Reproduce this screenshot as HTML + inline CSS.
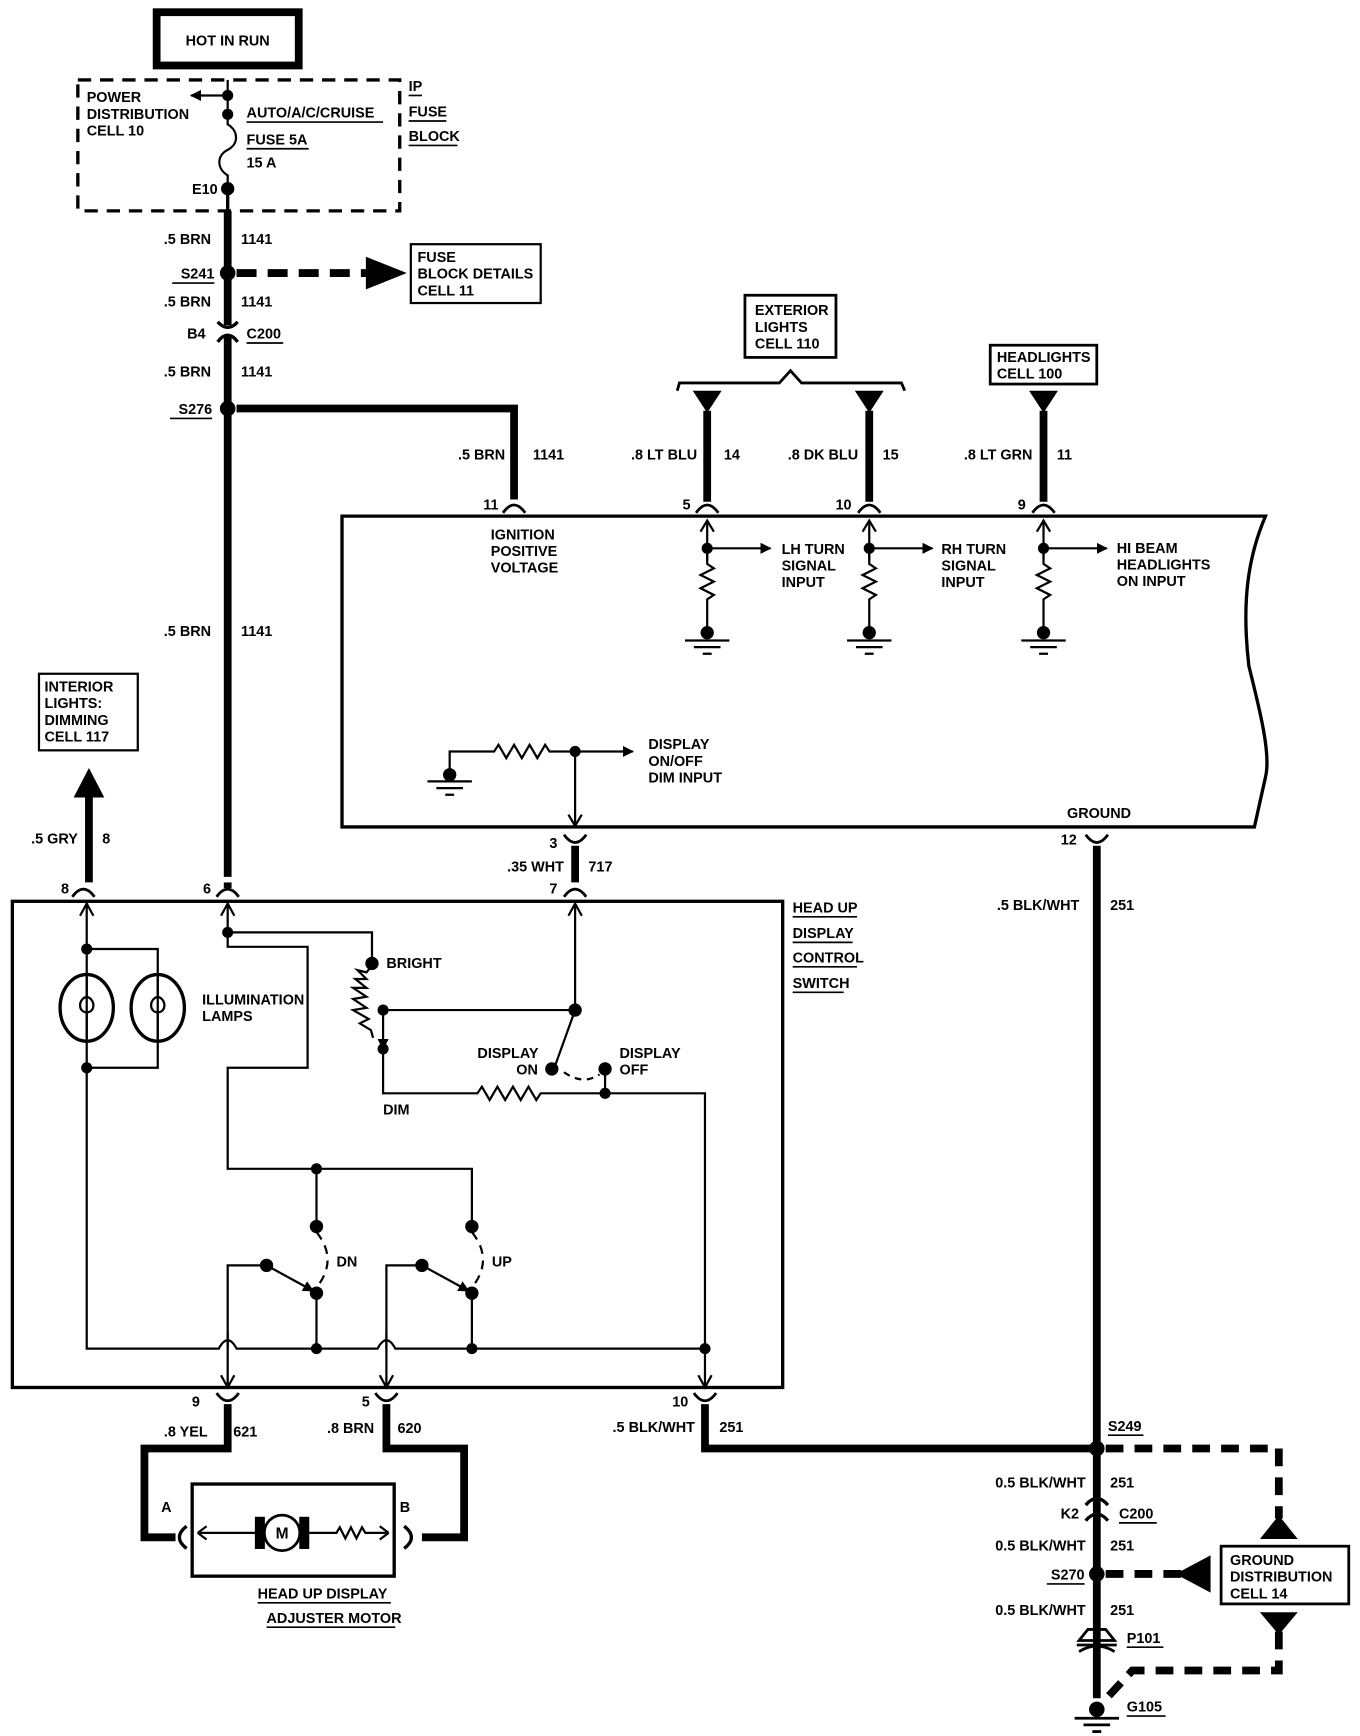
<!DOCTYPE html>
<html><head><meta charset="utf-8"><style>
html,body{margin:0;padding:0;background:#fff}
svg{display:block}
text{font-family:"Liberation Sans",sans-serif;font-weight:bold;font-size:13px;fill:#000}
</style></head><body>
<svg width="1360" height="1736" viewBox="0 0 1225 1564" xmlns="http://www.w3.org/2000/svg">
<defs>
<marker id="ar" markerWidth="10" markerHeight="10" refX="9" refY="5" orient="auto" markerUnits="userSpaceOnUse"><path d="M0,0 L10,5 L0,10 z" fill="#000"/></marker>
</defs>
<g fill="none" stroke="#000">
<rect x="141" y="11" width="128" height="48" stroke-width="7"/>
<rect x="70" y="72" width="290" height="118" stroke-width="3" stroke-dasharray="12,8"/>
<line x1="205" y1="72" x2="205" y2="103" stroke-width="2"/>
<line x1="205" y1="86" x2="172" y2="86" stroke-width="2" marker-end="url(#ar)"/>
<path d="M205,103 V112 C215,118 215,130 205,135 C195,140 195,152 205,158 V170" stroke-width="2"/>
<line x1="205" y1="170" x2="205" y2="190" stroke-width="3"/>
<line x1="205" y1="190" x2="205" y2="293" stroke-width="7"/>
<path d="M196,290 Q205,300 214,290 M196,308 Q205,296 214,308" stroke-width="3"/>
<line x1="205" y1="303" x2="205" y2="790" stroke-width="7"/>
<line x1="213" y1="246" x2="330" y2="246" stroke-width="7" stroke-dasharray="18,10"/>
<path d="M330,232 L365,246 L330,260z" fill="#000"/>
<rect x="370" y="220" width="117" height="53" stroke-width="2"/>
<path d="M213,368 H463 V450" stroke-width="7"/>
<path d="M308,465 H1140 C1125,500 1118,540 1125,600 C1135,640 1145,680 1140,700 L1130,745 H308 Z" stroke-width="3"/>
<g stroke-width="2.5">
<path d="M453,462 Q463,448 473,462"/><path d="M627,462 Q637,448 647,462"/><path d="M773,462 Q783,448 793,462"/><path d="M930,462 Q940,448 950,462"/>
</g>
<g stroke-width="7"><line x1="637" y1="370" x2="637" y2="452"/><line x1="783" y1="370" x2="783" y2="452"/><line x1="940" y1="370" x2="940" y2="452"/></g>
<path d="M610,352 L612,345 H702 L712,334 L722,345 H812 L815,352" stroke-width="2.5"/>
<rect x="671" y="266" width="82" height="56" stroke-width="2.5"/>
<rect x="892" y="311" width="96" height="35" stroke-width="2.5"/>
<g stroke-width="2">
<path d="M637,505 V469 M783,505 V469 M940,505 V469"/>
<path d="M631,479 L637,469 L643,479 M777,479 L783,469 L789,479 M934,479 L940,469 L946,479"/>
<line x1="637" y1="494" x2="694" y2="494" marker-end="url(#ar)"/>
<line x1="783" y1="494" x2="840" y2="494" marker-end="url(#ar)"/>
<line x1="940" y1="494" x2="997" y2="494" marker-end="url(#ar)"/>
<path d="M637,494 V508 l6,4 l-12,6 l12,6 l-12,6 l12,6 l-6,4 V570"/>
<path d="M783,494 V508 l6,4 l-12,6 l12,6 l-12,6 l12,6 l-6,4 V570"/>
<path d="M940,494 V508 l6,4 l-12,6 l12,6 l-12,6 l12,6 l-6,4 V570"/>
<path d="M617,577 H657 M625,583 H649 M633,589 H641"/>
<path d="M763,577 H803 M771,583 H795 M779,589 H787"/>
<path d="M920,577 H960 M928,583 H952 M936,589 H944"/>
<path d="M405,698 V677 H445 l4,-6 l7,12 l7,-12 l7,12 l7,-12 l7,12 l7,-12 l4,6 H518"/>
<path d="M385,704 H425 M393,710 H417 M401,716 H409"/>
<line x1="518" y1="677" x2="570" y2="677" marker-end="url(#ar)"/>
<path d="M518,677 V744 M512,734 L518,744 L524,734"/>
</g>
<path d="M508,752 Q518,766 528,752" stroke-width="2.5"/>
<line x1="518" y1="762" x2="518" y2="795" stroke-width="7"/>
<path d="M508,808 Q518,794 528,808" stroke-width="2.5"/>
<path d="M978,752 Q988,766 998,752" stroke-width="2.5"/>
<line x1="988" y1="762" x2="988" y2="1530" stroke-width="7"/>
<rect x="11" y="812" width="694" height="438" stroke-width="3"/>
<g stroke-width="2.5">
<path d="M65,808 Q75,794 85,808"/><path d="M195,808 Q205,794 215,808"/>
<path d="M195,1255 Q205,1269 215,1255"/><path d="M338,1255 Q348,1269 358,1255"/><path d="M625,1255 Q635,1269 645,1255"/>
</g>
<line x1="80" y1="795" x2="80" y2="715" stroke-width="7"/>
<path d="M67,718 L80,693 L93,718z" fill="#000"/>
<rect x="35" y="607" width="89" height="69" stroke-width="2"/>
<line x1="205" y1="795" x2="205" y2="800" stroke-width="7"/>
<g stroke-width="2">
<path d="M78,855 V814 M72,825 L78,814 L84,825"/>
<path d="M205,845 V814 M199,825 L205,814 L211,825"/>
<path d="M518,910 V814 M512,825 L518,814 L524,825"/>
<path d="M78,855 V1215 H197 Q205,1200 213,1215 H340 Q348,1200 356,1215 H635"/>
<path d="M78,855 H142 V962 H78"/>
<ellipse cx="78" cy="908" rx="24" ry="30" stroke-width="3"/>
<ellipse cx="142" cy="908" rx="24" ry="30" stroke-width="3"/>
<path d="M78,880 V898 C70,900 70,912 78,912 C86,912 86,900 78,898 M78,912 V936"/>
<path d="M142,880 V898 C134,900 134,912 142,912 C150,912 150,900 142,898 M142,912 V936"/>
<path d="M205,840 H335 V868"/>
<path d="M205,840 V853 H277 V962 H205 V1053 H425 V1105"/>
<path d="M285,1053 V1105"/>
<path d="M335,870 l-5,6 l-8,-2 l8,8 l-10,0 l10,8 l-12,0 l12,8 l-12,2 l12,8 l-12,2 l14,8 l-8,4 l10,6 l2,7"/>
<path d="M345,910 H518 L500,960"/>
<line x1="345" y1="910" x2="345" y2="945" marker-end="url(#ar)"/>
<path d="M345,948 V985 H430 l4,-6 l7,12 l7,-12 l7,12 l7,-12 l7,12 l7,-12 l7,12 l4,-6 H635 V1250"/>
<path d="M508,966 Q525,978 540,968" stroke-dasharray="6,5"/>
<path d="M545,963 V985"/>
<path d="M285,1110 Q305,1135 285,1160" stroke-dasharray="8,6"/>
<path d="M425,1110 Q445,1135 425,1160" stroke-dasharray="8,6"/>
<path d="M205,1215 V1140 H240"/><line x1="240" y1="1140" x2="282" y2="1163" marker-end="url(#ar)"/>
<path d="M348,1215 V1140 H380"/><line x1="380" y1="1140" x2="422" y2="1163" marker-end="url(#ar)"/>
<path d="M285,1165 V1215 M425,1165 V1215"/>
<path d="M205,1200 V1250 M199,1239 L205,1250 L211,1239"/>
<path d="M348,1200 V1250 M342,1239 L348,1250 L354,1239"/>
<path d="M629,1239 L635,1250 L641,1239"/>
</g>
<path d="M205,1265 V1305 H130 V1385 H158" stroke-width="7"/>
<path d="M348,1265 V1305 H418 V1385 H380" stroke-width="7"/>
<path d="M635,1265 V1305 H988" stroke-width="7"/>
<path d="M168,1375 Q155,1385 168,1395" stroke-width="3"/>
<path d="M364,1375 Q377,1385 364,1395" stroke-width="3"/>
<rect x="173" y="1337" width="182" height="83" stroke-width="3"/>
<g stroke-width="2">
<path d="M178,1381 l8,-6 M178,1381 l8,6 M232,1381 H180"/>
<path d="M278,1381 H303 l3,-5 l5,10 l5,-10 l5,10 l5,-10 l3,5 H350 M350,1381 l-8,-6 M350,1381 l-8,6"/>
</g>
<rect x="230" y="1367" width="8" height="28" fill="#000"/>
<rect x="270" y="1367" width="8" height="28" fill="#000"/>
<circle cx="254" cy="1381" r="16" stroke-width="2.5" fill="#fff"/>
<line x1="996" y1="1305" x2="1152" y2="1305" stroke-width="7" stroke-dasharray="16,10"/>
<line x1="1152" y1="1305" x2="1152" y2="1368" stroke-width="7" stroke-dasharray="16,10"/>
<path d="M1136,1386 L1152,1366 L1168,1386z" fill="#000"/>
<rect x="1100" y="1393" width="115" height="52" stroke-width="2.5"/>
<line x1="996" y1="1418" x2="1065" y2="1418" stroke-width="7" stroke-dasharray="16,10"/>
<path d="M1090,1402 L1060,1418 L1090,1434z" fill="#000"/>
<path d="M1136,1453 L1168,1453 L1152,1472z" fill="#000"/>
<path d="M1152,1470 V1505 H1020 L995,1532" stroke-width="7" stroke-dasharray="16,10"/>
<path d="M978,1356 Q988,1344 998,1356 M978,1370 Q988,1358 998,1370" stroke-width="3"/>
<path d="M972,1478 L980,1468 H996 L1004,1478 Z M970,1482 H1006 M972,1488 Q988,1478 1004,1488" stroke-width="2.5"/>
<path d="M968,1548 H1008 M976,1554 H1000 M984,1560 H992" stroke-width="2.5"/>
</g>
<g fill="#000">
<circle cx="205" cy="86" r="5"/><circle cx="205" cy="103" r="5"/><circle cx="205" cy="170" r="6"/>
<circle cx="205" cy="246" r="7"/><circle cx="205" cy="368" r="7"/>
<path d="M624,352 L650,352 L637,372z"/><path d="M770,352 L796,352 L783,372z"/><path d="M927,352 L953,352 L940,372z"/>
<circle cx="637" cy="494" r="5"/><circle cx="783" cy="494" r="5"/><circle cx="940" cy="494" r="5"/>
<circle cx="637" cy="570" r="6"/><circle cx="783" cy="570" r="6"/><circle cx="940" cy="570" r="6"/>
<circle cx="405" cy="698" r="6"/><circle cx="518" cy="677" r="5"/>
<circle cx="78" cy="855" r="5"/><circle cx="78" cy="962" r="5"/><circle cx="205" cy="840" r="5"/>
<circle cx="335" cy="868" r="6"/><circle cx="345" cy="910" r="5"/><circle cx="518" cy="910" r="6"/><circle cx="345" cy="945" r="5"/>
<circle cx="497" cy="963" r="6"/><circle cx="545" cy="963" r="6"/><circle cx="545" cy="985" r="5"/>
<circle cx="285" cy="1053" r="5"/><circle cx="285" cy="1105" r="6"/><circle cx="425" cy="1105" r="6"/>
<circle cx="240" cy="1140" r="6"/><circle cx="380" cy="1140" r="6"/><circle cx="285" cy="1165" r="6"/><circle cx="425" cy="1165" r="6"/>
<circle cx="285" cy="1215" r="5"/><circle cx="425" cy="1215" r="5"/><circle cx="635" cy="1215" r="5"/>
<circle cx="988" cy="1305" r="7"/><circle cx="988" cy="1418" r="7"/><circle cx="988" cy="1540" r="7"/>
</g>
<g>
<text x="205" y="41" text-anchor="middle">HOT IN RUN</text>
<text x="78" y="92">POWER</text><text x="78" y="107">DISTRIBUTION</text><text x="78" y="122">CELL 10</text>
<text x="222" y="106">AUTO/A/C/CRUISE</text><text x="222" y="130">FUSE 5A</text><text x="222" y="151">15 A</text>
<text x="368" y="82">IP</text><text x="368" y="105">FUSE</text><text x="368" y="127">BLOCK</text>
<text x="196" y="175" text-anchor="end">E10</text>
<text x="190" y="220" text-anchor="end">.5 BRN</text><text x="217" y="220">1141</text>
<text x="193" y="251" text-anchor="end">S241</text>
<text x="376" y="236">FUSE</text><text x="376" y="251">BLOCK DETAILS</text><text x="376" y="266">CELL 11</text>
<text x="190" y="276" text-anchor="end">.5 BRN</text><text x="217" y="276">1141</text>
<text x="185" y="305" text-anchor="end">B4</text><text x="222" y="305">C200</text>
<text x="190" y="339" text-anchor="end">.5 BRN</text><text x="217" y="339">1141</text>
<text x="191" y="373" text-anchor="end">S276</text>
<text x="190" y="573" text-anchor="end">.5 BRN</text><text x="217" y="573">1141</text>
<text x="455" y="414" text-anchor="end">.5 BRN</text><text x="480" y="414">1141</text>
<text x="628" y="414" text-anchor="end">.8 LT BLU</text><text x="652" y="414">14</text>
<text x="773" y="414" text-anchor="end">.8 DK BLU</text><text x="795" y="414">15</text>
<text x="930" y="414" text-anchor="end">.8 LT GRN</text><text x="952" y="414">11</text>
<text x="680" y="284">EXTERIOR</text><text x="680" y="299">LIGHTS</text><text x="680" y="314">CELL 110</text>
<text x="898" y="326">HEADLIGHTS</text><text x="898" y="341">CELL 100</text>
<text x="449" y="459" text-anchor="end">11</text><text x="622" y="459" text-anchor="end">5</text><text x="767" y="459" text-anchor="end">10</text><text x="924" y="459" text-anchor="end">9</text>
<text x="442" y="486">IGNITION</text><text x="442" y="501">POSITIVE</text><text x="442" y="516">VOLTAGE</text>
<text x="704" y="499">LH TURN</text><text x="704" y="514">SIGNAL</text><text x="704" y="529">INPUT</text>
<text x="848" y="499">RH TURN</text><text x="848" y="514">SIGNAL</text><text x="848" y="529">INPUT</text>
<text x="1006" y="498">HI BEAM</text><text x="1006" y="513">HEADLIGHTS</text><text x="1006" y="528">ON INPUT</text>
<text x="584" y="675">DISPLAY</text><text x="584" y="690">ON/OFF</text><text x="584" y="705">DIM INPUT</text>
<text x="990" y="737" text-anchor="middle">GROUND</text>
<text x="970" y="761" text-anchor="end">12</text>
<text x="502" y="764" text-anchor="end">3</text>
<text x="508" y="785" text-anchor="end">.35 WHT</text><text x="530" y="785">717</text>
<text x="502" y="805" text-anchor="end">7</text>
<text x="898" y="820">.5 BLK/WHT</text><text x="1000" y="820">251</text>
<text x="40" y="623">INTERIOR</text><text x="40" y="638">LIGHTS:</text><text x="40" y="653">DIMMING</text><text x="40" y="668">CELL 117</text>
<text x="70" y="760" text-anchor="end">.5 GRY</text><text x="92" y="760">8</text>
<text x="62" y="805" text-anchor="end">8</text><text x="190" y="805" text-anchor="end">6</text>
<text x="714" y="822">HEAD UP</text><text x="714" y="845">DISPLAY</text><text x="714" y="867">CONTROL</text><text x="714" y="890">SWITCH</text>
<text x="182" y="905">ILLUMINATION</text><text x="182" y="920">LAMPS</text>
<text x="348" y="872">BRIGHT</text>
<text x="430" y="953">DISPLAY</text><text x="465" y="968">ON</text>
<text x="558" y="953">DISPLAY</text><text x="558" y="968">OFF</text>
<text x="345" y="1004">DIM</text>
<text x="303" y="1141">DN</text><text x="443" y="1141">UP</text>
<text x="180" y="1267" text-anchor="end">9</text><text x="333" y="1267" text-anchor="end">5</text><text x="620" y="1267" text-anchor="end">10</text>
<text x="187" y="1294" text-anchor="end">.8 YEL</text><text x="210" y="1294">621</text>
<text x="337" y="1291" text-anchor="end">.8 BRN</text><text x="358" y="1291">620</text>
<text x="626" y="1290" text-anchor="end">.5 BLK/WHT</text><text x="648" y="1290">251</text>
<text x="145" y="1362">A</text><text x="360" y="1362">B</text>
<text x="254" y="1386" text-anchor="middle" style="font-size:14px">M</text>
<text x="232" y="1440">HEAD UP DISPLAY</text><text x="240" y="1462">ADJUSTER MOTOR</text>
<text x="998" y="1289">S249</text>
<text x="978" y="1340" text-anchor="end">0.5 BLK/WHT</text><text x="1000" y="1340">251</text>
<text x="972" y="1368" text-anchor="end">K2</text><text x="1008" y="1368">C200</text>
<text x="978" y="1397" text-anchor="end">0.5 BLK/WHT</text><text x="1000" y="1397">251</text>
<text x="977" y="1423" text-anchor="end">S270</text>
<text x="978" y="1455" text-anchor="end">0.5 BLK/WHT</text><text x="1000" y="1455">251</text>
<text x="1015" y="1480">P101</text>
<text x="1015" y="1542">G105</text>
<text x="1108" y="1410">GROUND</text><text x="1108" y="1425">DISTRIBUTION</text><text x="1108" y="1440">CELL 14</text>
</g>
<g stroke="#000" stroke-width="1.5">
<line x1="222" y1="110" x2="345" y2="110"/><line x1="222" y1="134" x2="278" y2="134"/>
<line x1="368" y1="86" x2="380" y2="86"/><line x1="368" y1="109" x2="402" y2="109"/><line x1="368" y1="131" x2="412" y2="131"/>
<line x1="155" y1="255" x2="193" y2="255"/><line x1="222" y1="309" x2="255" y2="309"/><line x1="153" y1="377" x2="191" y2="377"/>
<line x1="714" y1="826" x2="772" y2="826"/><line x1="714" y1="849" x2="768" y2="849"/><line x1="714" y1="871" x2="772" y2="871"/><line x1="714" y1="894" x2="760" y2="894"/>
<line x1="232" y1="1444" x2="352" y2="1444"/><line x1="240" y1="1466" x2="356" y2="1466"/>
<line x1="998" y1="1293" x2="1030" y2="1293"/><line x1="1008" y1="1372" x2="1042" y2="1372"/><line x1="943" y1="1427" x2="977" y2="1427"/>
<line x1="1015" y1="1484" x2="1048" y2="1484"/><line x1="1015" y1="1546" x2="1050" y2="1546"/>
</g>
</svg>
</body></html>
